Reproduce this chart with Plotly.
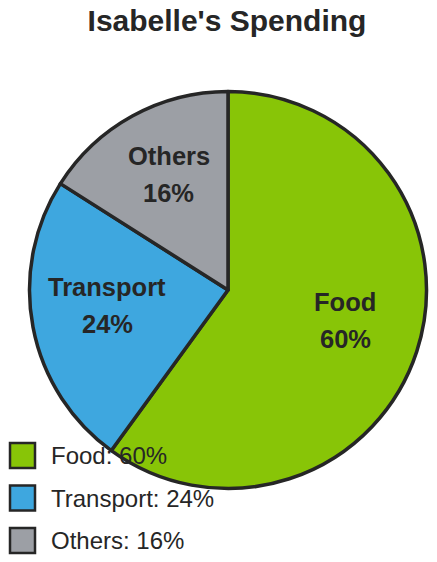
import math
import plotly.graph_objects as go

categories = ["Food", "Transport", "Others"]
values = [60, 24, 16]
colors = ["#88c507", "#3ea7df", "#9c9fa5"]
title_text = "Isabelle's Spending"

W, H = 437, 562
OFF = 8  # page body margin
INK = "#262626"
FONT = "Liberation Sans, Arial, sans-serif"

def px(x):
    return (x - OFF) / W

def py(y):
    return 1 - (y - OFF) / H

# pie geometry (pixels in the final page)
cx, cy, R = 228, 290, 198.5

fig = go.Figure(go.Pie(
    labels=categories, values=values, sort=False, direction="clockwise",
    rotation=0, textinfo="none", hoverinfo="skip", showlegend=False,
    marker=dict(colors=colors, line=dict(color=INK, width=3.5)),
    domain=dict(x=[px(cx - R), px(cx + R)], y=[py(cy + R), py(cy - R)]),
))

annotations = []
shapes = []
total = sum(values)
cum = 0
for cat, v in zip(categories, values):
    mid = (cum + v / 2) / total * 2 * math.pi
    cum += v
    rf = 0.62
    lx = cx + math.sin(mid) * R * rf
    ly = cy - math.cos(mid) * R * rf - 8
    pct = f"{round(v / total * 100)}%"
    for txt, dy in ((cat, -18), (pct, 19)):
        annotations.append(dict(
            x=px(lx), y=py(ly + dy), xref="paper", yref="paper",
            text=f"<b>{txt}</b>", showarrow=False,
            font=dict(family=FONT, size=25.5, color=INK),
            xanchor="center", yanchor="middle"))

# legend
for i, (cat, v, col) in enumerate(zip(categories, values, colors)):
    yc = 455.5 + i * 42.5
    shapes.append(dict(type="rect", xref="paper", yref="paper",
                       x0=px(10), x1=px(35), y0=py(yc + 12.5), y1=py(yc - 12.5),
                       fillcolor=col, line=dict(color=INK, width=2.5)))
    annotations.append(dict(
        x=px(49), y=py(yc), xref="paper", yref="paper",
        text=f"{cat}: {round(v / total * 100)}%", showarrow=False,
        font=dict(family=FONT, size=24, color=INK),
        xanchor="left", yanchor="middle"))

fig.update_layout(
    width=W, height=H,
    margin=dict(l=0, r=0, t=0, b=0),
    paper_bgcolor="white", plot_bgcolor="white",
    title=dict(text=f"<b>{title_text}</b>", x=px(227), xanchor="center",
               y=py(20), yanchor="middle", yref="container",
               font=dict(family=FONT, size=30, color=INK)),
    annotations=annotations, shapes=shapes,
)

fig.write_html("out.html")
